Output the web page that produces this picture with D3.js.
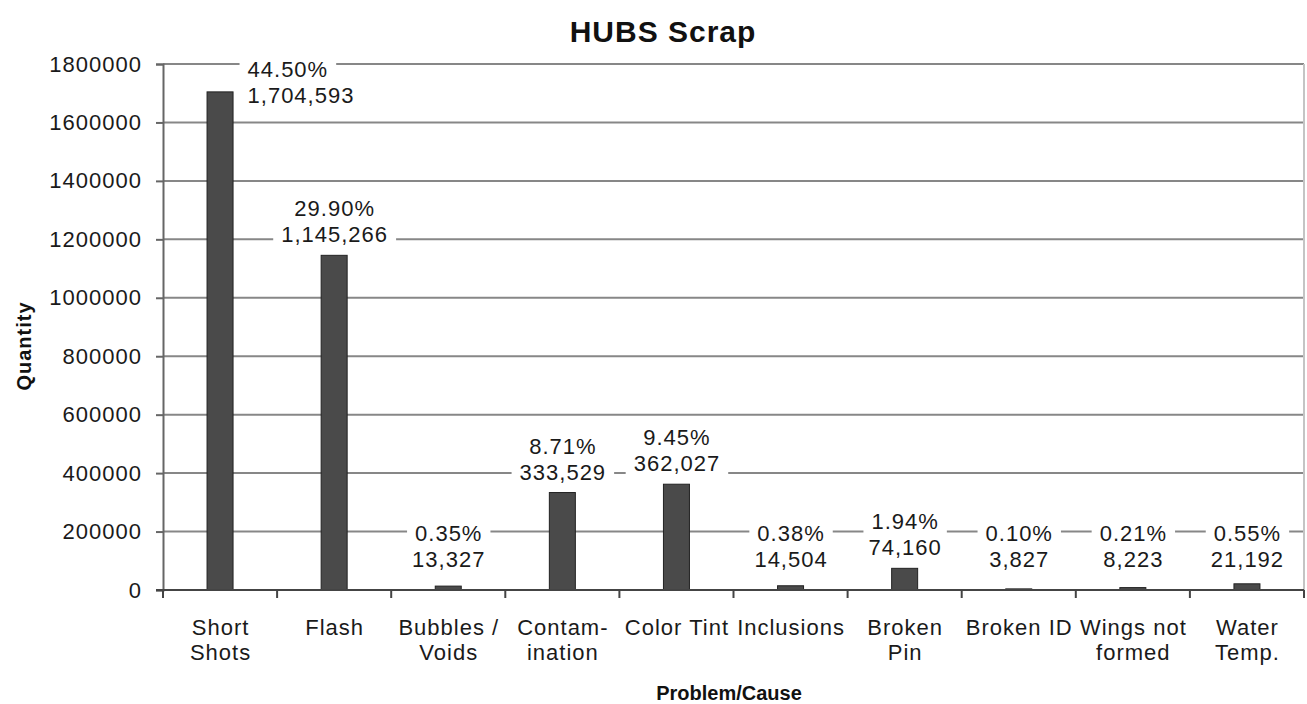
<!DOCTYPE html>
<html>
<head>
<meta charset="utf-8">
<script src="https://cdn.jsdelivr.net/npm/d3@7"></script>
<style>
  html, body { margin: 0; padding: 0; background: #fff; }
  svg { display: block; font-family: "Liberation Sans", Arial, Helvetica, sans-serif; }
</style>
</head>
<body>
<svg id="chart" width="1307" height="704"></svg>
<script>
// Scrap quantities by problem / cause
const categories = [
  "Short Shots", "Flash", "Bubbles / Voids", "Contamination", "Color Tint",
  "Inclusions", "Broken Pin", "Broken ID", "Wings not formed", "Water Temp."
];
// Axis label lines for each category
const categoryLines = [
  ["Short", "Shots"], ["Flash"], ["Bubbles /", "Voids"], ["Contam-", "ination"], ["Color Tint"],
  ["Inclusions"], ["Broken", "Pin"], ["Broken ID"], ["Wings not", "formed"], ["Water", "Temp."]
];
const quantities = [1704593, 1145266, 13327, 333529, 362027, 14504, 74160, 3827, 8223, 21192];
const shares = [44.50, 29.90, 0.35, 8.71, 9.45, 0.38, 1.94, 0.10, 0.21, 0.55];
const yTicks = [0, 200000, 400000, 600000, 800000, 1000000, 1200000, 1400000, 1600000, 1800000];

const svg = d3.select("#chart");
const plot = { left: 163, right: 1304, top: 64, bottom: 590 };
const LS = "1px"; // letter spacing for body text

const x = d3.scaleBand().domain(categories).range([plot.left, plot.right]).padding(0);
const y = d3.scaleLinear().domain([0, 1800000]).range([plot.bottom, plot.top]);
const barW = 26;

// Title
svg.append("text")
  .attr("x", 663).attr("y", 42)
  .attr("text-anchor", "middle")
  .attr("font-size", 30).attr("font-weight", "bold").attr("fill", "#111")
  .attr("letter-spacing", LS)
  .text("HUBS Scrap");

// Horizontal gridlines
svg.append("g").selectAll("line").data(yTicks.filter(d => d > 0)).join("line")
  .attr("x1", plot.left).attr("x2", plot.right)
  .attr("y1", d => y(d)).attr("y2", d => y(d))
  .attr("stroke", "#878787").attr("stroke-width", 2);

// Right border of the plot area
svg.append("line")
  .attr("x1", plot.right).attr("x2", plot.right)
  .attr("y1", plot.top).attr("y2", plot.bottom)
  .attr("stroke", "#c4c4c4").attr("stroke-width", 2);

// Y axis
const yAxis = d3.axisLeft(y).tickValues(yTicks).tickSize(7).tickPadding(14)
  .tickFormat(d3.format("d"));
const gy = svg.append("g").attr("transform", `translate(${plot.left},0)`).call(yAxis);
gy.select(".domain").attr("stroke", "#666").attr("stroke-width", 2);
gy.selectAll(".tick line").attr("stroke", "#666").attr("stroke-width", 2);
gy.selectAll(".tick text").attr("font-size", 22).attr("fill", "#1a1a1a")
  .attr("letter-spacing", LS)
  .attr("font-family", "Liberation Sans, Arial, sans-serif");

// Bars
svg.append("g").selectAll("rect").data(categories).join("rect")
  .attr("x", d => x(d) + x.bandwidth() / 2 - barW / 2)
  .attr("width", barW)
  .attr("y", (d, i) => y(quantities[i]))
  .attr("height", (d, i) => Math.max(1, y(0) - y(quantities[i])))
  .attr("fill", "#4a4a4a")
  .attr("stroke", "#222").attr("stroke-width", 1);

// X axis with ticks at category boundaries
const gx = svg.append("g");
gx.append("line")
  .attr("x1", plot.left - 7).attr("x2", plot.right)
  .attr("y1", plot.bottom).attr("y2", plot.bottom)
  .attr("stroke", "#444").attr("stroke-width", 2);
const bounds = categories.map(c => x(c)).concat([plot.right]);
gx.selectAll("line.b").data(bounds).join("line").attr("class", "b")
  .attr("x1", d => d).attr("x2", d => d)
  .attr("y1", plot.bottom).attr("y2", plot.bottom + 8)
  .attr("stroke", "#444").attr("stroke-width", 2);

// Category labels
const catG = svg.append("g").attr("font-size", 22).attr("fill", "#1a1a1a")
  .attr("text-anchor", "middle").attr("letter-spacing", LS);
categories.forEach((c, i) => {
  const cx = x(c) + x.bandwidth() / 2 + 0.5;
  const t = catG.append("text").attr("x", cx).attr("y", 635);
  categoryLines[i].forEach((line, k) => {
    t.append("tspan").attr("x", cx).attr("dy", k === 0 ? 0 : 25).text(line);
  });
});

// Data labels: share and quantity, on a white backing
const fmtQ = d3.format(",");
const labelG = svg.append("g").attr("font-size", 22).attr("fill", "#1a1a1a").attr("letter-spacing", LS);
categories.forEach((c, i) => {
  const cx = x(c) + x.bandwidth() / 2 + 0.5;
  const top = y(quantities[i]);
  let base2 = Math.min(top - 13, plot.bottom - 23);
  let anchor = "middle", lx = cx;
  // A label that would rise past the plot top sits beside its bar instead
  if (base2 - 26 - 17 < plot.top) {
    anchor = "start";
    lx = cx + barW / 2 + 14;
    base2 = plot.top + 39;
  }
  const lines = [shares[i].toFixed(2) + "%", fmtQ(quantities[i])];
  const g = labelG.append("g");
  const texts = lines.map((s, k) => g.append("text")
    .attr("x", lx).attr("y", base2 - 26 * (1 - k))
    .attr("text-anchor", anchor).text(s));
  texts.forEach(t => {
    const bb = t.node().getBBox();
    g.insert("rect", "text")
      .attr("x", bb.x - 8).attr("y", bb.y - 1)
      .attr("width", bb.width + 16).attr("height", bb.height + 2)
      .attr("fill", "#fff");
  });
});

// Axis titles
svg.append("text")
  .attr("transform", "translate(31,346) rotate(-90)")
  .attr("text-anchor", "middle")
  .attr("font-size", 20).attr("font-weight", "bold").attr("fill", "#111")
  .attr("letter-spacing", "1px")
  .text("Quantity");

svg.append("text")
  .attr("x", 729).attr("y", 700)
  .attr("text-anchor", "middle")
  .attr("font-size", 20).attr("font-weight", "bold").attr("fill", "#111")
  .text("Problem/Cause");
</script>
</body>
</html>
